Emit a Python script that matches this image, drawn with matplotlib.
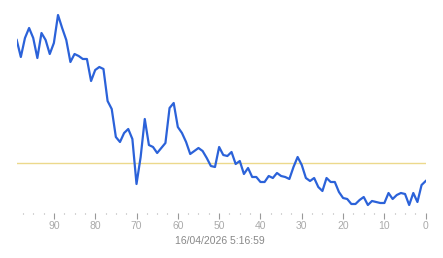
import matplotlib
matplotlib.use("Agg")
import matplotlib.pyplot as plt
import numpy as np

# x positions (seconds ago), from 99 down to 0
x_vals = list(range(99, -1, -1))
# series values (arbitrary units)
y_vals = [180, 163, 182, 192, 182, 162, 187, 180, 166, 177,
          205, 192, 180, 158, 166, 164, 161, 161, 139, 150,
          153, 151, 119, 111, 83, 78, 87, 91, 81, 36,
          63, 101, 75, 73, 67, 72, 77, 112, 117, 93,
          87, 78, 66, 69, 72, 69, 62, 54, 53, 73,
          65, 64, 68, 56, 59, 46, 52, 43, 43, 38,
          38, 44, 42, 47, 44, 43, 41, 53, 63, 55,
          42, 39, 42, 33, 29, 42, 38, 38, 28, 22,
          21, 16, 16, 20, 23, 15, 19, 18, 17, 17,
          27, 21, 25, 27, 26, 15, 27, 18, 35, 39]
threshold = 57
tick_labels = ["90", "80", "70", "60", "50", "40", "30", "20", "10", "0"]
tick_pos = [90, 80, 70, 60, 50, 40, 30, 20, 10, 0]
minor_pos = [p for p in np.arange(97.5, -0.1, -2.5) if p % 10 != 0]
date_text = "16/04/2026 5:16:59"

W, H = 443, 258
fig = plt.figure(figsize=(W / 100, H / 100), dpi=100)
left, right = 16.7, 425.7
top, bottom = 0, 213
ax = fig.add_axes([left / W, 1 - bottom / H, (right - left) / W, (bottom - top) / H])
ax.set_xlim(99 + (16.7 - 16.7) / 4.138, 0)
ax.set_ylim(7, 220)
for s in ax.spines.values():
    s.set_visible(False)
ax.set_yticks([])

ax.axhline(threshold, color="#ecd98c", lw=1.0, zorder=1)
ax.plot(x_vals, y_vals, color="#2b62d9", lw=1.6, zorder=3, solid_joinstyle="round")

ax.set_xticks(tick_pos)
ax.set_xticklabels(tick_labels)
ax.tick_params(axis="x", which="major", length=4, width=0.8, color="#999999",
               labelsize=7.5, labelcolor="#aaaaaa", pad=1.5, direction="out")
ax.set_xticks(minor_pos, minor=True)
ax.tick_params(axis="x", which="minor", length=1, width=0.8, color="#aaaaaa")
for lab in ax.get_xticklabels():
    lab.set_family("Liberation Sans")

fig.text(220 / W, 1 - 241 / H, date_text, ha="center", va="center",
         fontsize=7.5, color="#888888", family="Liberation Sans")

fig.savefig("out.png", dpi=100, facecolor="white")
